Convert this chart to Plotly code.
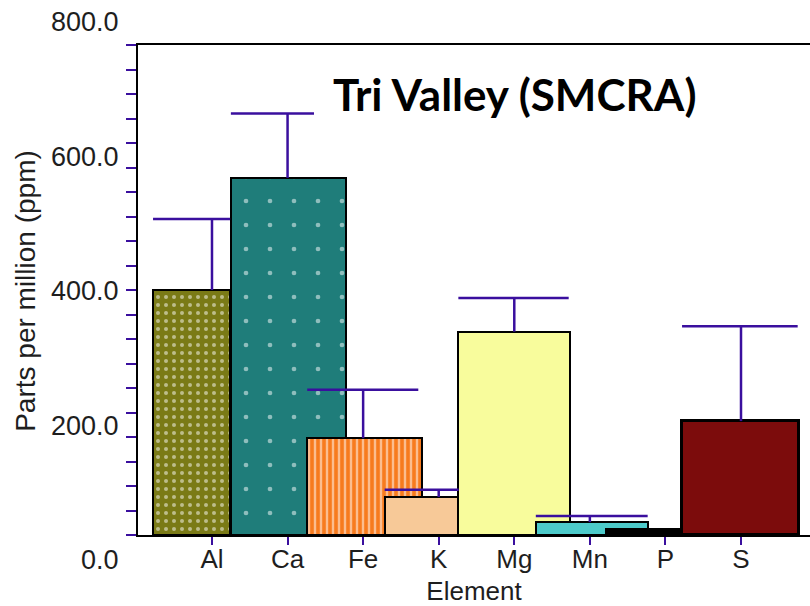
import plotly.graph_objects as go

# ---- data ----
elements = ["Al", "Ca", "Fe", "K", "Mg", "Mn", "P", "S"]
ppm = [400, 583, 158, 62, 332, 21, 9, 186]
ppm_err = [116, 105, 79, 12, 55, 10, 0, 155]
y_tick_values = [0, 200, 400, 600, 800]
y_tick_labels = ["0.0", "200.0", "400.0", "600.0", "800.0"]

# ---- styles (positions / sizes in category units) ----
bar_offset = [-0.78, -0.75, -0.74, -0.715, -0.74, -0.715, -0.79, -0.78]
bar_width = [1.02, 1.52, 1.52, 0.98, 1.48, 1.48, 1.0, 1.55]
cap_width = [1.02, 1.10, 1.47, 0.98, 1.46, 1.48, 0.0, 1.53]
bar_color = ["#7a7a16", "#1f7d7a", "#f77b1e", "#f7c998", "#f8fc9c", "#4dcaca", "#000000", "#7c0c0c"]
pat_shape = [".", ".", "|", "", "", "", "", ""]
pat_fg = ["#ffffff", "#ffffff", "#ffffff", "#000000", "#000000", "#000000", "#000000", "#000000"]
pat_size = [8, 24, 6, 8, 8, 8, 8, 8]
pat_solid = [0.2, 0.03, 0.4, 0.3, 0.3, 0.3, 0.3, 0.3]
line_w = [2, 2, 2, 2, 2, 2, 2, 3]
ERR_COLOR = "#3a0f9e"

xi = list(range(len(elements)))

fig = go.Figure()
# one trace per element so that each bar can carry its own pattern colours;
# later bars are drawn over earlier ones, as in the reference
for i, el in enumerate(elements):
    fig.add_trace(go.Bar(
        x=[xi[i]], y=[ppm[i]], offset=bar_offset[i], width=bar_width[i], name=el,
        marker=dict(
            color=bar_color[i],
            line=dict(color="#000000", width=line_w[i]),
            pattern=dict(shape=pat_shape[i], fgcolor=pat_fg[i], bgcolor=bar_color[i],
                         size=pat_size[i], solidity=pat_solid[i], fillmode="overlay"),
        ),
        showlegend=False, hoverinfo="skip",
    ))

# error bars: vertical from bar top at the tick, cap spanning the bar
ex, ey = [], []
for i, (v, e) in enumerate(zip(ppm, ppm_err)):
    if e <= 0:
        continue
    ex += [i, i, None, i + bar_offset[i], i + bar_offset[i] + cap_width[i], None]
    ey += [v, v + e, None, v + e, v + e, None]
fig.add_trace(go.Scatter(x=ex, y=ey, mode="lines",
                         line=dict(color=ERR_COLOR, width=2.5),
                         showlegend=False, hoverinfo="skip"))

# empty trace to register the label axis
fig.add_trace(go.Scatter(x=[], y=[], xaxis="x", yaxis="y2", showlegend=False))

W, H = 810, 606
mt, mb = 20, 40
ph = H - mt - mb


def py(pix):
    return (H - mb - pix) / ph


fig.update_layout(
    width=W, height=H,
    margin=dict(l=138, r=0, t=mt, b=mb),
    paper_bgcolor="white", plot_bgcolor="rgba(0,0,0,0)",
    font=dict(family="Liberation Sans, Arial, sans-serif", color="#1e1e1e"),
    barmode="overlay", bargap=0,
    xaxis=dict(
        range=[-0.979, 7.913], domain=[0, 1], anchor="y", automargin=False,
        tickmode="array", tickvals=xi, ticktext=elements,
        ticks="outside", ticklen=8, tickwidth=2, tickcolor=ERR_COLOR,
        ticklabelstandoff=-8,
        showline=True, linecolor="#000000", linewidth=2, mirror=True,
        showgrid=False, zeroline=False,
        tickfont=dict(size=26),
        title=dict(text="Element", font=dict(size=26), standoff=21),
    ),
    yaxis=dict(
        range=[0, 800], domain=[py(535), py(45)], anchor="x", automargin=False,
        tickmode="linear", tick0=0, dtick=40,
        ticks="outside", ticklen=10, tickwidth=2, tickcolor=ERR_COLOR,
        showticklabels=False,
        showline=True, linecolor="#000000", linewidth=2,
        showgrid=False, zeroline=False,
    ),
    yaxis2=dict(
        range=[0, 800], domain=[py(560), py(22)], anchor="free", position=0,
        automargin=False,
        tickmode="array", tickvals=y_tick_values, ticktext=y_tick_labels,
        ticks="outside", ticklen=14, tickcolor="rgba(0,0,0,0)",
        showline=False, showgrid=False, zeroline=False,
        tickfont=dict(size=27),
        title=dict(text="Parts per million (ppm)", font=dict(size=28), standoff=6),
    ),
    annotations=[dict(
        text="<b>Tri Valley (SMCRA)</b>", xref="paper", yref="paper",
        x=(515 - 138) / 672, y=py(94), xanchor="center", yanchor="middle",
        showarrow=False, font=dict(family="Lato, sans-serif", size=44, color="#000000"),
    )],
)

fig.write_html("out.html")
